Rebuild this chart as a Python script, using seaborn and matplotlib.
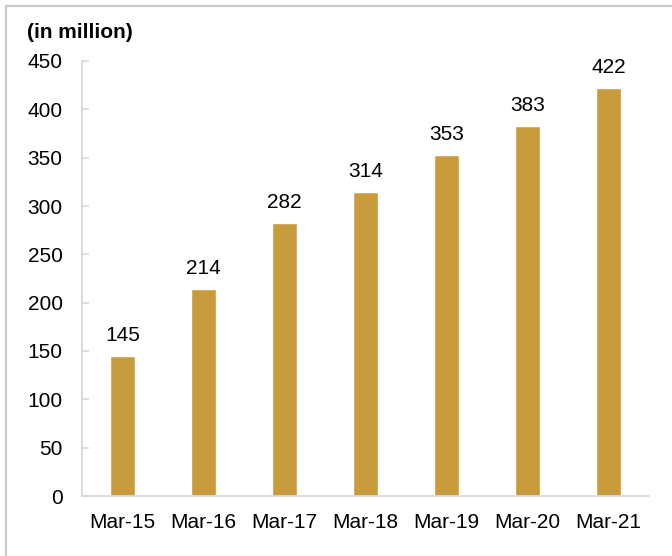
import matplotlib
matplotlib.use("Agg")
import matplotlib.pyplot as plt
from matplotlib.lines import Line2D
import seaborn as sns
import pandas as pd

# Yearly figures (in million)
periods = ["Mar-15", "Mar-16", "Mar-17", "Mar-18", "Mar-19", "Mar-20", "Mar-21"]
values = [145, 214, 282, 314, 353, 383, 422]
y_ticks = [0, 50, 100, 150, 200, 250, 300, 350, 400, 450]

sns.set_theme(style="white")
plt.rcParams["font.family"] = ["Liberation Sans", "DejaVu Sans"]

df = pd.DataFrame({"period": periods, "value": values})

fig = plt.figure(figsize=(6.72, 5.56), dpi=100)
ax = fig.add_axes([82 / 672, 60 / 556, 567 / 672, 435 / 556])

bar_color = "#C89B3C"
sns.barplot(data=df, x="period", y="value", color=bar_color, saturation=1,
            width=0.31, ax=ax)

for p, v in zip(ax.patches, values):
    ax.annotate(f"{v}", (p.get_x() + p.get_width() / 2, v),
                xytext=(0, 8), textcoords="offset points",
                ha="center", va="bottom", fontsize=15, color="#000000")

ax.set_ylim(0, 450)
ax.set_yticks(y_ticks)
ax.set_xlim(-0.5, len(periods) - 0.5)
ax.set_xlabel("")
ax.set_ylabel("")

for side in ["top", "right"]:
    ax.spines[side].set_visible(False)
for side in ["left", "bottom"]:
    ax.spines[side].set_color("#D9D9D9")
    ax.spines[side].set_linewidth(1.3)

ax.tick_params(axis="y", direction="in", length=5, width=1.2, color="#D9D9D9",
               left=True, labelsize=15, pad=14, labelcolor="#000000")
ax.tick_params(axis="x", length=0, labelsize=15, pad=12, labelcolor="#000000")

fig.text(27 / 672, 1 - 32 / 556, "(in million)", fontsize=15, fontweight="bold",
         ha="left", va="center", color="#000000")

# Outer frame along the top and left edges
frame_kw = dict(color="#C8C8C8", linewidth=1.5, transform=fig.transFigure)
fig.add_artist(Line2D([6 / 672, 1.0], [1 - 6 / 556, 1 - 6 / 556], **frame_kw))
fig.add_artist(Line2D([6 / 672, 6 / 672], [0.0, 1 - 6 / 556], **frame_kw))

fig.savefig("out.png", dpi=100)
